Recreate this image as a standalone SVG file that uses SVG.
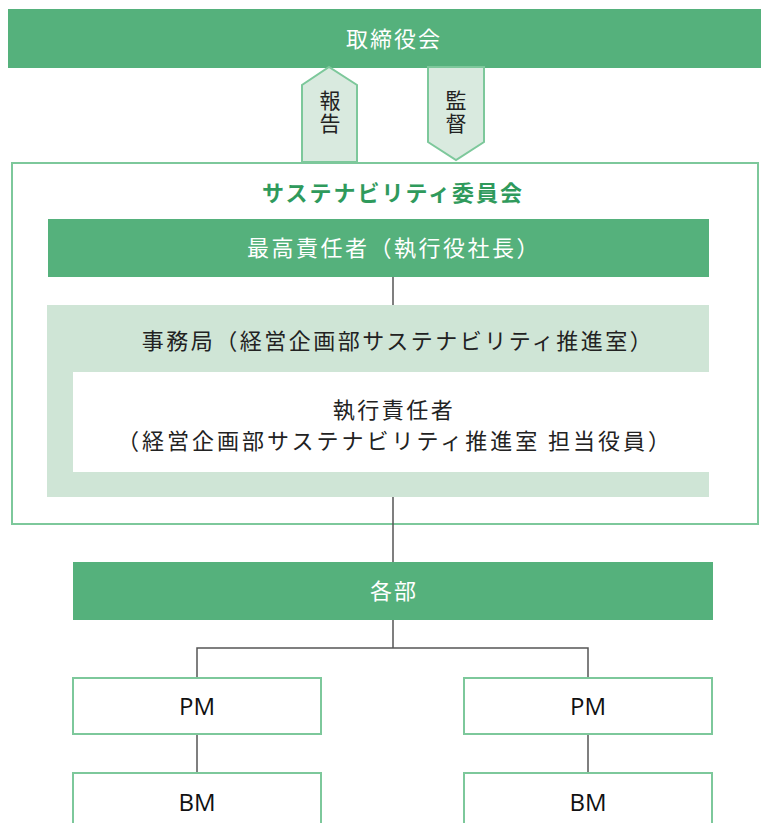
<svg xmlns="http://www.w3.org/2000/svg" width="761" height="823" viewBox="0 0 761 823">
<style>
.bar{fill:#55b17c;}
.wbox{fill:#fff;stroke:#7dc89b;stroke-width:2;}
.arrow{fill:#d9eadf;stroke:#7dc89b;stroke-width:2;}
.wt{fill:#fff;font-family:"Noto Sans CJK JP",sans-serif;font-size:22px;text-anchor:middle;}
.dt{fill:#222;font-family:"Noto Sans CJK JP",sans-serif;font-size:22px;text-anchor:middle;}
.vt{fill:#222;font-family:"Noto Sans CJK JP",sans-serif;font-size:21px;writing-mode:vertical-rl;text-orientation:upright;letter-spacing:2px;}
.gt{fill:#2f9a5c;font-family:"Noto Sans CJK JP",sans-serif;font-size:22px;font-weight:bold;text-anchor:middle;}
.et{fill:#111;font-family:"Open Sans","Liberation Sans",sans-serif;font-size:24px;text-anchor:middle;}
.ln{stroke:#555;stroke-width:1.5;fill:none;}
</style>
<rect width="761" height="823" fill="#fff"/>
<g id="board">
<rect class="bar" x="8" y="9" width="753" height="59"/>
<text class="wt" x="394" y="47" letter-spacing="2">取締役会</text>
</g>
<g id="committee">
<rect x="12" y="163" width="746" height="361" fill="#fff" stroke="#7dc89b" stroke-width="2"/>
<text class="gt" x="393" y="201" letter-spacing="2">サステナビリティ委員会</text>
</g>
<g id="report">
<polygon class="arrow" points="302,162 302,85 329,67 357,85 357,162"/>
<text class="vt" x="330" y="90">報告</text>
</g>
<g id="supervise">
<polygon class="arrow" points="428,67 484,67 484,142 456,160 428,142"/>
<text class="vt" x="456" y="90">監督</text>
</g>
<g id="connectors">
<line class="ln" x1="393" y1="277" x2="393" y2="305"/>
<line class="ln" x1="393" y1="472" x2="393" y2="562"/>
<polyline class="ln" points="393,620 393,648"/>
<polyline class="ln" points="197,677 197,648 588,648 588,677"/>
<line class="ln" x1="197" y1="734" x2="197" y2="773"/>
<line class="ln" x1="588" y1="734" x2="588" y2="773"/>
</g>
<g id="ceo">
<rect class="bar" x="48" y="219" width="661" height="58"/>
<text class="wt" x="394" y="256" letter-spacing="2.5">最高責任者（執行役社長）</text>
</g>
<g id="secretariat">
<rect x="47" y="305" width="662" height="192" fill="#cfe5d6"/>
<text class="dt" x="398" y="349" letter-spacing="2.5">事務局（経営企画部サステナビリティ推進室）</text>
</g>
<g id="executive">
<rect x="73" y="372" width="640" height="100" fill="#fff"/>
<text class="dt" x="394" y="418" letter-spacing="2.5">執行責任者</text>
<text class="dt" x="395" y="449" letter-spacing="3">（経営企画部サステナビリティ推進室 担当役員）</text>
</g>
<g id="departments">
<rect class="bar" x="73" y="562" width="640" height="58"/>
<text class="wt" x="394" y="599" letter-spacing="2">各部</text>
</g>
<g id="pm-left">
<rect class="wbox" x="73" y="678" width="248" height="56"/>
<text class="et" x="197" y="715">PM</text>
</g>
<g id="pm-right">
<rect class="wbox" x="464" y="678" width="248" height="56"/>
<text class="et" x="588" y="715">PM</text>
</g>
<g id="bm-left">
<rect class="wbox" x="73" y="773" width="248" height="60"/>
<text class="et" x="197" y="811">BM</text>
</g>
<g id="bm-right">
<rect class="wbox" x="464" y="773" width="248" height="60"/>
<text class="et" x="588" y="811">BM</text>
</g>
</svg>
